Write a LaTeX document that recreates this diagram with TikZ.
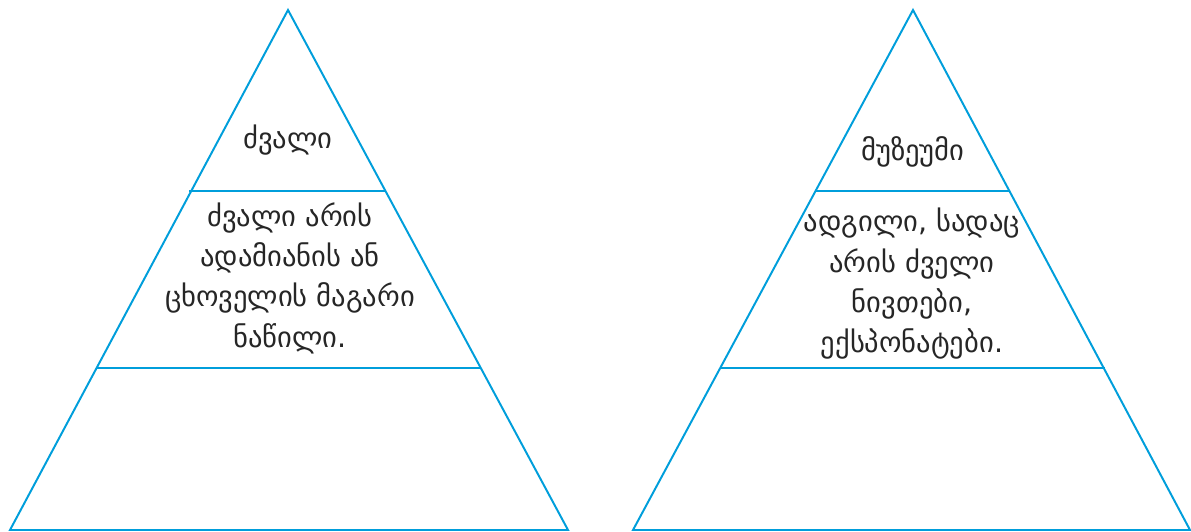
\documentclass[tikz,border=0pt]{standalone}
\usepackage{fontspec}
\setmainfont{DejaVu Sans}[Script=Georgian]
\usetikzlibrary{positioning}
\definecolor{pyrblue}{RGB}{0,158,219}
\tikzset{
  pyrline/.style={pyrblue, line width=1.4pt, line join=miter},
  pyrtext/.style={align=center, font=\fontsize{20.3}{28.7}\selectfont, text=black!85, inner sep=0pt}
}
\begin{document}
\begin{tikzpicture}[x=0.025cm, y=-0.025cm]
    \useasboundingbox (0,0) rectangle (1191,532);

    % Left pyramid
    \coordinate (ltop) at (288,10);
    \coordinate (lbl) at (10,530);
    \coordinate (lbr) at (568,530);
    \draw[pyrline] (ltop) -- (lbr) -- (lbl) -- cycle;
    \draw[pyrline] (189,191) -- (386,191);
    \draw[pyrline] (96,368) -- (480,368);

    % Right pyramid
    \coordinate (rtop) at (913,10);
    \coordinate (rbl) at (633,530);
    \coordinate (rbr) at (1190,530);
    \draw[pyrline] (rtop) -- (rbr) -- (rbl) -- cycle;
    \draw[pyrline] (816,191) -- (1010,191);
    \draw[pyrline] (721,368) -- (1105,368);

    % Texts
    \node[pyrtext] (lword) at (288,140) {ძვალი};
    \node[pyrtext] (ldef) at (290,278) {ძვალი არის\\ადამიანის ან\\ცხოველის მაგარი\\ნაწილი.};
    \node[pyrtext] (rword) at (913,152) {მუზეუმი};
    \node[pyrtext] (rdef) at (912,284) {ადგილი, სადაც\\არის ძველი\\ნივთები,\\ექსპონატები.};
\end{tikzpicture}
\end{document}
